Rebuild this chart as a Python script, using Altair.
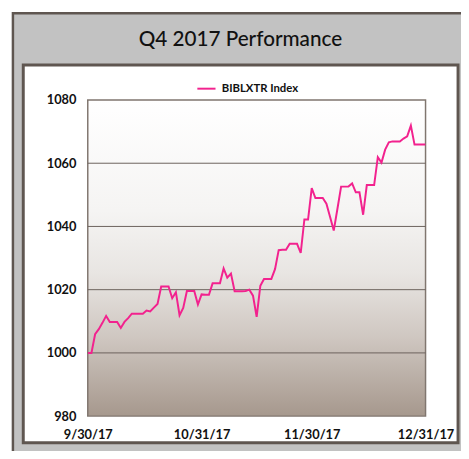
import altair as alt
import pandas as pd

TITLE = "Q4 2017 Performance"
SERIES = "BIBLXTR Index"
START = "2017-09-30"
END = "2017-12-31"

# daily index level, 9/30/17 .. 12/31/17
VALUES = [
    1000.0, 1000.0, 1005.9, 1007.5, 1009.5, 1011.7, 1009.8, 1009.8, 1009.8, 1007.9,
    1009.8, 1011.0, 1012.4, 1012.4, 1012.4, 1012.4, 1013.4, 1013.1, 1014.3, 1015.5,
    1021.0, 1021.0, 1021.0, 1017.3, 1019.2, 1011.9, 1014.2, 1019.6, 1019.6, 1019.6,
    1015.3, 1018.5, 1018.4, 1018.4, 1022.0, 1022.0, 1022.0, 1026.7, 1023.8, 1025.1,
    1019.5, 1019.5, 1019.5, 1019.6, 1020.0, 1018.1, 1011.4, 1021.2, 1023.4, 1023.4,
    1023.4, 1026.5, 1032.5, 1032.6, 1032.6, 1034.5, 1034.5, 1034.5, 1031.6, 1042.2,
    1042.2, 1052.1, 1049.0, 1049.0, 1049.0, 1047.2, 1043.0, 1038.7, 1045.6, 1052.6,
    1052.6, 1052.6, 1053.6, 1050.8, 1050.8, 1043.7, 1053.1, 1053.1, 1053.1, 1061.9,
    1060.2, 1064.3, 1066.6, 1066.9, 1066.9, 1066.9, 1067.8, 1068.5, 1071.9, 1065.9,
    1065.9, 1065.9, 1065.9,
]
Y_TICKS = [980, 1000, 1020, 1040, 1060, 1080]
GRID_LEVELS = [1000, 1020, 1040, 1060]
X_TICKS = [(2017, 9, 30), (2017, 10, 31), (2017, 11, 30), (2017, 12, 31)]

W, H = 343, 321
FONT = "Lato"
FRAME = "#5f5650"
LINE_COLOR = "#f2228e"

dates = pd.date_range(START, END, freq="D").strftime("%Y-%m-%d")
df = pd.DataFrame({"date": dates, "value": VALUES, "series": SERIES})
one = pd.DataFrame({"title": [TITLE]})
grid_df = pd.DataFrame({"value": GRID_LEVELS})

yscale = alt.Scale(domain=[Y_TICKS[0], Y_TICKS[-1]], nice=False, zero=False)
xscale = alt.Scale(
    type="utc",
    domain=[alt.DateTime(year=2017, month=9, date=30, utc=True),
            alt.DateTime(year=2017, month=12, date=31, utc=True)],
)
y_axis = alt.Axis(
    values=Y_TICKS, format="d", labelFont=FONT, labelFontSize=13,
    labelFontWeight="bold", labelColor="#111111", labelPadding=12,
    ticks=False, domain=False, grid=False, labelOverlap=False, zindex=1,
)

outer = alt.Chart(one).mark_rect(fill="#c2c2c2", stroke=FRAME, strokeWidth=2.5).encode(
    x=alt.value(-76), x2=alt.value(420), y=alt.value(-88), y2=alt.value(420)
)
panel = alt.Chart(one).mark_rect(fill="white", stroke=FRAME, strokeWidth=3).encode(
    x=alt.value(-65.5), x2=alt.value(376), y=alt.value(-35.5), y2=alt.value(348)
)
title = alt.Chart(one).mark_text(font=FONT, fontSize=21, fontWeight=500, color="#111111").encode(
    x=alt.value(155), y=alt.value(-61), text="title:N"
)
gradient = {
    "gradient": "linear", "x1": 0, "y1": 0, "x2": 0, "y2": 1,
    "stops": [
        {"offset": 0.0, "color": "#ffffff"},
        {"offset": 0.35, "color": "#f5f4f3"},
        {"offset": 0.55, "color": "#e8e5e2"},
        {"offset": 0.75, "color": "#cfc7c1"},
        {"offset": 1.0, "color": "#a6988d"},
    ],
}
plotbg = alt.Chart(one).mark_rect(fill=gradient, stroke="#80766f", strokeWidth=1.5).encode(
    x=alt.value(0), x2=alt.value(W), y=alt.value(0), y2=alt.value(H)
)
grid = alt.Chart(grid_df).mark_rule(color="#6c625c", strokeWidth=1).encode(
    y=alt.Y("value:Q", scale=yscale, title=None, axis=y_axis)
)
line = alt.Chart(df).mark_line(strokeWidth=2, clip=True).encode(
    x=alt.X(
        "date:T", scale=xscale, title=None,
        axis=alt.Axis(
            values=[alt.DateTime(year=a, month=b, date=c, utc=True) for a, b, c in X_TICKS],
            format="%-m/%d/%y", labelFont=FONT, labelFontSize=13, labelFontWeight="bold",
            labelColor="#111111", labelPadding=13, ticks=False, domain=False, grid=False,
            labelOverlap=False, labelFlush=False, zindex=1,
        ),
    ),
    y=alt.Y("value:Q", scale=yscale, title=None, axis=y_axis),
    color=alt.Color(
        "series:N", scale=alt.Scale(range=[LINE_COLOR]),
        legend=alt.Legend(
            title=None, orient="none", legendX=110, legendY=-22, direction="horizontal",
            symbolType="stroke", symbolSize=340, symbolStrokeWidth=2, padding=0,
            labelFont=FONT, labelFontSize=11.5, labelFontWeight="bold", labelColor="#111111",
            labelOffset=5, zindex=1,
        ),
    ),
)

chart = alt.layer(outer, panel, title, plotbg, grid, line).properties(
    width=W, height=H,
    autosize=alt.AutoSizeParams(type="none"),
    padding={"left": 81, "top": 90, "right": 36, "bottom": 32},
    background="white",
).configure_view(strokeWidth=0)

chart.save("out.html", embed_options={"renderer": "svg", "actions": False})
